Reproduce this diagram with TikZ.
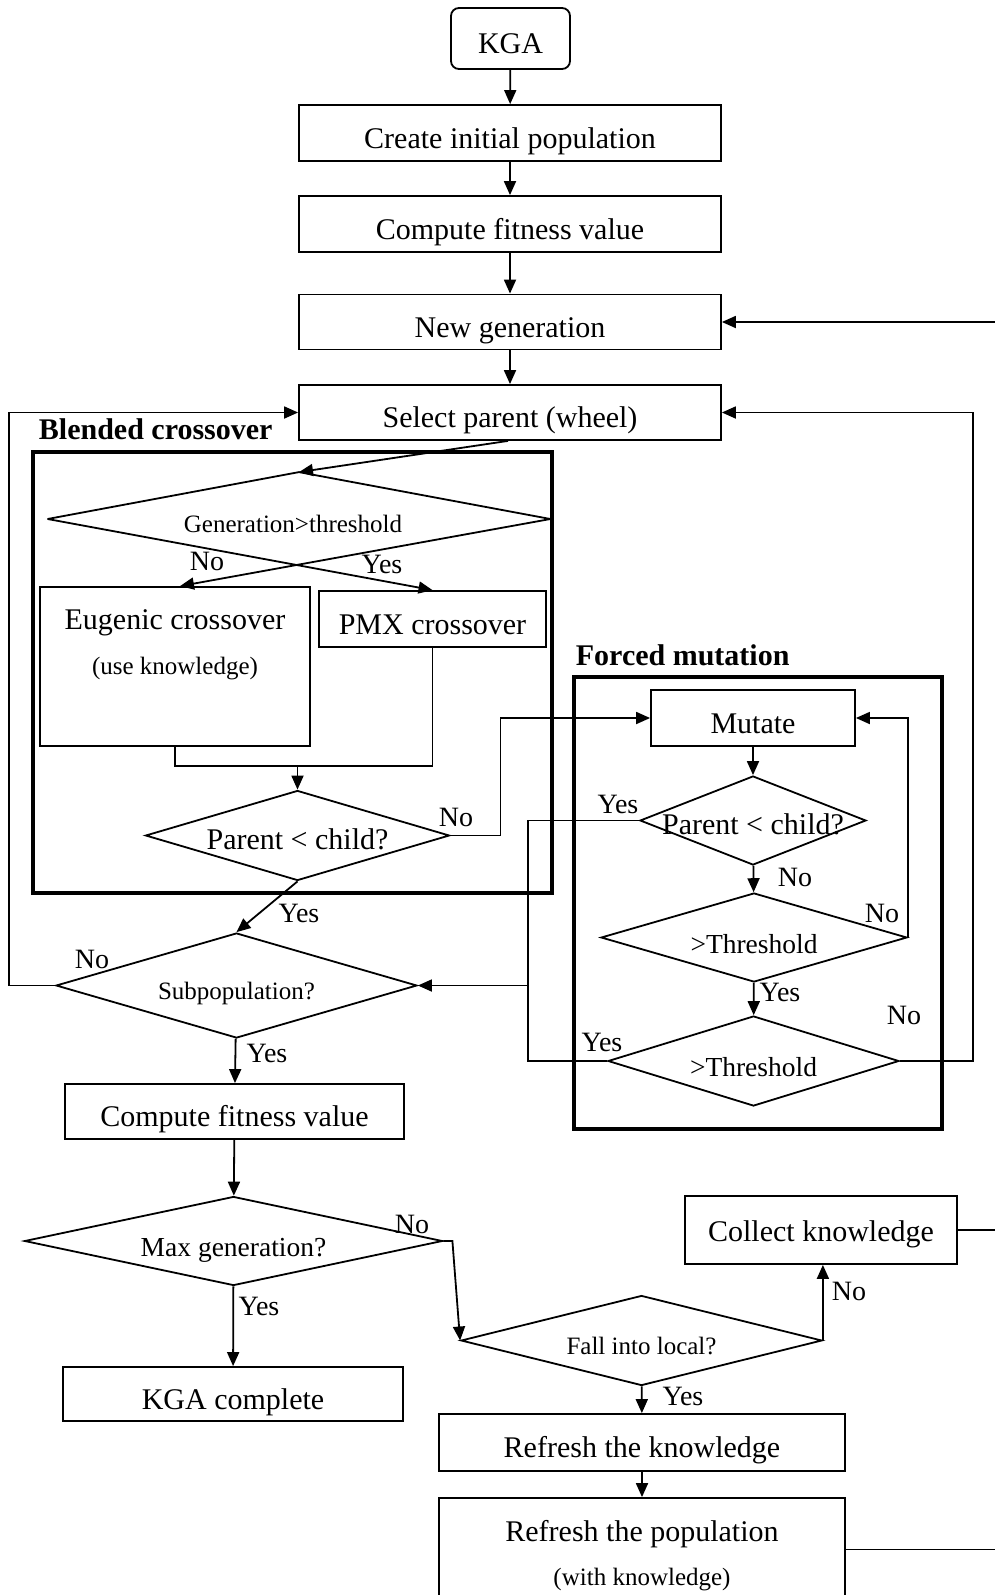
\documentclass[tikz,border=0pt]{standalone}
\usepackage{fontspec}
\setmainfont{Liberation Serif}
\usetikzlibrary{arrows.meta,shapes.geometric,calc}
\newcommand\myfs[1]{\fontsize{#1}{#1}\selectfont}
\newcommand\zerowd[1]{\makebox[0pt]{#1}}
\begin{document}
\begin{tikzpicture}[x=1pt,y=-1pt,line width=1.8pt,
  >={Triangle[length=14pt,width=12pt]},
  box/.style={draw,rectangle,inner sep=0pt,font=\myfs{30},text height=30pt,text depth=0pt},
  dia/.style={draw,diamond,inner sep=0pt,text depth=0pt},
  lab/.style={font=\myfs{28},inner sep=0pt},
  txt/.style={inner sep=0pt},
  frame/.style={line width=4.5pt},
  ttl/.style={font=\bfseries\myfs{30},anchor=west,inner sep=0pt}]
\useasboundingbox (0,0) rectangle (995,1595);

% main column
\node[box,rounded corners=8pt,minimum width=119pt,minimum height=61pt] (kga) at (510.5,38.5) {KGA};
\node[box,minimum width=422pt,minimum height=56pt] (cip) at (510,133) {Create initial population};
\node[box,minimum width=422pt,minimum height=56pt] (cf1) at (510,224) {Compute fitness value};
\node[box,minimum width=422pt,minimum height=55pt] (ng) at (510,322) {New generation};
\node[box,minimum width=422pt,minimum height=55pt] (sel) at (510,412.5) {Select parent (wheel)};

% blended crossover
\draw[frame] (33,452) rectangle (552,893);
\node[ttl] (tb) at (38,429) {Blended crossover};
\node[dia,draw=none,minimum width=501pt,minimum height=92pt,font=\myfs{25},text height=27pt] (gt) at (299,519) {\zerowd{Generation>threshold\hspace{12pt}}};
\draw (gt.west) -- (gt.north) -- (gt.east);
\node[box,minimum width=270pt,minimum height=159pt] (eug) at (175,666.5) {};
\node[txt,font=\myfs{30}] (eugt) at (175,623) {Eugenic crossover};
\node[txt,font=\myfs{25}] (eugs) at (175,669) {(use knowledge)};
\node[box,minimum width=227pt,minimum height=56pt] (pmx) at (432.5,619) {PMX crossover};
\node[dia,minimum width=304pt,minimum height=90pt,font=\myfs{30},text height=27pt] (pc1) at (297.5,835.5) {\zerowd{Parent < child?}};
\coordinate (mj) at (297.5,766);

% forced mutation
\draw[frame] (574,677) rectangle (942,1129);
\node[ttl] (tf) at (575,655) {Forced mutation};
\node[box,minimum width=204pt,minimum height=56pt] (mut) at (753,718) {Mutate};
\node[dia,minimum width=226pt,minimum height=89pt,font=\myfs{30},text height=27pt] (pc2) at (753,820.5) {\zerowd{Parent < child?}};
\node[dia,minimum width=306pt,minimum height=89pt,font=\myfs{27.5},text height=31pt] (t1) at (754,937.5) {\zerowd{>Threshold}};
\node[dia,minimum width=291pt,minimum height=90pt,font=\myfs{27.5},text height=31pt] (t2) at (753.5,1061) {\zerowd{>Threshold}};

% lower left
\node[dia,minimum width=361pt,minimum height=105pt,font=\myfs{25},text height=27pt] (sub) at (236.5,985.5) {\zerowd{Subpopulation?}};
\node[box,minimum width=339pt,minimum height=55pt] (cf2) at (234.5,1111.5) {Compute fitness value};
\node[dia,minimum width=418pt,minimum height=89pt,font=\myfs{27.5},text height=31pt] (mg) at (233.5,1241) {\zerowd{Max generation?}};
\node[box,minimum width=340pt,minimum height=54pt] (kgac) at (233,1394) {KGA complete};

% lower right
\node[box,minimum width=272pt,minimum height=68pt,text height=22pt] (colk) at (821,1230) {Collect knowledge};
\node[dia,minimum width=361pt,minimum height=90pt,font=\myfs{25},text height=27pt] (fil) at (641.5,1340.5) {\zerowd{Fall into local?}};
\node[box,minimum width=406pt,minimum height=57pt] (rk) at (642,1442.5) {Refresh the knowledge};
\node[box,minimum width=406pt,minimum height=103pt] (rp) at (642,1549.5) {};
\node[txt,font=\myfs{30}] (rpt) at (642,1534) {Refresh the population};
\node[txt,font=\myfs{25}] (rps) at (642,1580) {(with knowledge)};

\coordinate (ea) at (995,322);
\coordinate (eb) at (995,1230);
\coordinate (ec) at (995,1549.5);
\coordinate (jx) at (528,985.5);

% connectors main column
\draw[->] (kga) -- (cip);
\draw[->] (cip) -- (cf1);
\draw[->] (cf1) -- (ng);
\draw[->] (ng) -- (sel);
\draw[->] (ea) -- (ng.east);
\draw[->] (sel.south) ++(-2,0) -- (gt.north);

% blended
\draw[->] (gt.west) -- (pmx.north);
\draw[->] (gt.east) -- ($(eug.north)+(5,0)$);
\draw (eug.south) |- (mj);
\draw (pmx.south) |- (mj);
\draw[->] (mj) -- (pc1.north);
\draw[->] (pc1.east) -- ++(50,0) |- (mut.west);
\draw[->] (pc1.south) -- (sub.north);

% forced
\draw[->] (mut) -- (pc2);
\draw[->] (pc2) -- (t1);
\draw[->] (t1) -- (t2);
\draw[->] (t1.east) |- (mut.east);
\draw[->] (pc2.west) -| (jx) -- (sub.east);
\draw (t2.west) -| (jx);
\draw[->] (t2.east) -- ++(73,0) |- (sel.east);
\draw[->] (sub.west) -- ++(-46,0) |- (sel.west);

% lower
\draw[->] (sub) -- (cf2);
\draw[->] (cf2) -- (mg);
\draw[->] (mg) -- (kgac);
\draw[->] (mg.east) -- ++(9,0) -- (fil.west);
\draw[->] (fil.east) -- (fil.east |- colk.south);
\draw[->] (fil) -- (rk);
\draw[->] (rk) -- (rp);
\draw (colk.east) -- (eb);
\draw (rp.east) -- (ec);

% labels
\node[lab] (l1) at (207,561) {No};
\node[lab] (l2) at (382,564) {Yes};
\node[lab] (l3) at (456,817) {No};
\node[lab] (l4) at (299,913) {Yes};
\node[lab] (l5) at (92,959) {No};
\node[lab] (l6) at (267,1053) {Yes};
\node[lab] (l7) at (618,804) {Yes};
\node[lab] (l8) at (795,877) {No};
\node[lab] (l9) at (882,913) {No};
\node[lab] (l10) at (780,992) {Yes};
\node[lab] (l11) at (602,1042) {Yes};
\node[lab] (l12) at (904,1015) {No};
\node[lab] (l13) at (412,1224) {No};
\node[lab] (l14) at (259,1306) {Yes};
\node[lab] (l15) at (849,1291) {No};
\node[lab] (l16) at (683,1396) {Yes};
\end{tikzpicture}
\end{document}
